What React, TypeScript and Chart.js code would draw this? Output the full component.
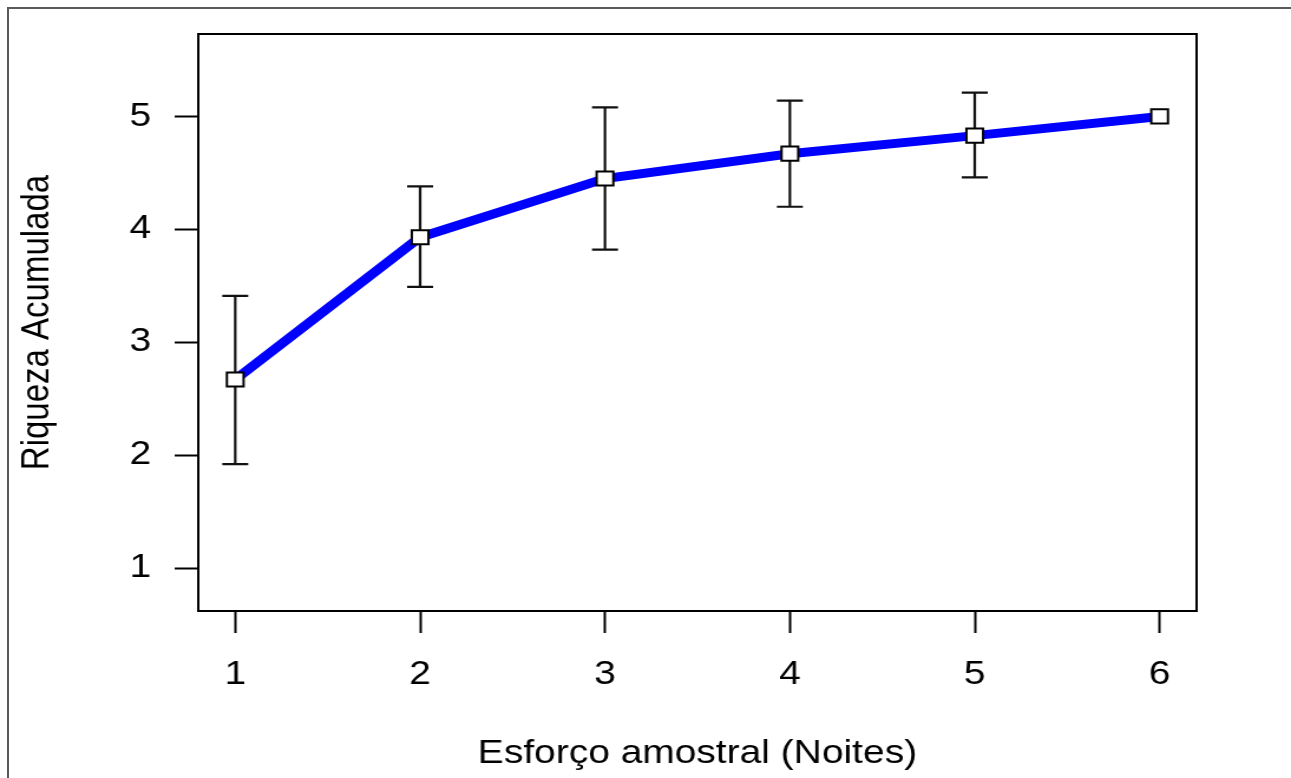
import React, { useEffect, useRef } from "react";
import { Chart, registerables } from "chart.js";

Chart.register(...registerables);

// ---- data ----
const NIGHTS = [1, 2, 3, 4, 5, 6];
const RICHNESS = [2.67, 3.93, 4.45, 4.67, 4.83, 5.0];
const UPPER = [3.41, 4.38, 5.08, 5.14, 5.21, 5.0];
const LOWER = [1.92, 3.49, 3.82, 4.2, 4.46, 5.0];
const X_TICKS = [1, 2, 3, 4, 5, 6];
const Y_TICKS = [1, 2, 3, 4, 5];
const X_TITLE = "Esforço amostral (Noites)";
const Y_TITLE = "Riqueza Acumulada";

// ---- layout ----
const CSS_W = 1291;
const CSS_H = 778;
const STRETCH = 1.18;
const CANVAS_W = Math.round(CSS_W / STRETCH);
const FONT = "'Liberation Sans', Arial, Helvetica, sans-serif";

const errorBars = {
  id: "errorBars",
  beforeDatasetsDraw(chart: any) {
    const { ctx, chartArea, scales } = chart;
    const x = scales.x;
    const y = scales.y;
    ctx.save();
    // box around plotting region
    ctx.strokeStyle = "#000";
    ctx.lineWidth = 2;
    ctx.strokeRect(
      chartArea.left,
      chartArea.top,
      chartArea.right - chartArea.left,
      chartArea.bottom - chartArea.top
    );
    // error bars
    ctx.strokeStyle = "#111";
    ctx.lineWidth = 2.2;
    NIGHTS.forEach((n, i) => {
      if (UPPER[i] === LOWER[i]) return;
      const px = x.getPixelForValue(n);
      const yt = y.getPixelForValue(UPPER[i]);
      const yb = y.getPixelForValue(LOWER[i]);
      ctx.beginPath();
      ctx.moveTo(px, yt);
      ctx.lineTo(px, yb);
      ctx.moveTo(px - 11, yt);
      ctx.lineTo(px + 11, yt);
      ctx.moveTo(px - 11, yb);
      ctx.lineTo(px + 11, yb);
      ctx.stroke();
    });
    ctx.restore();
  },
};

export default function App() {
  const ref = useRef<HTMLCanvasElement | null>(null);

  useEffect(() => {
    document.body.style.overflow = "hidden";
    const canvas = ref.current;
    if (!canvas) return;
    const chart = new Chart(canvas, {
      type: "line",
      data: {
        datasets: [
          {
            data: NIGHTS.map((n, i) => ({ x: n, y: RICHNESS[i] })),
            borderColor: "#0000ff",
            borderWidth: 9,
            tension: 0,
            pointStyle: "rect",
            pointRadius: 10,
            pointHoverRadius: 10,
            pointBackgroundColor: "#ffffff",
            pointBorderColor: "#000000",
            pointBorderWidth: 2,
          },
        ],
      },
      options: {
        responsive: false,
        maintainAspectRatio: false,
        devicePixelRatio: 1,
        animation: false,
        layout: { padding: { left: 0, right: 80, top: 34, bottom: 0 } },
        plugins: {
          legend: { display: false },
          tooltip: { enabled: false },
        },
        scales: {
          x: {
            type: "linear",
            min: 0.8,
            max: 6.2,
            afterBuildTicks: (s: any) => {
              s.ticks = X_TICKS.map((v) => ({ value: v }));
            },
            afterFit: (s: any) => {
              s.height = 167;
              s.paddingLeft = 0;
              s.paddingRight = 0;
            },
            border: { display: false },
            grid: {
              drawOnChartArea: false,
              drawTicks: true,
              tickLength: 22,
              tickWidth: 2,
              tickColor: "#000",
            },
            ticks: {
              padding: 22,
              color: "#000",
              font: { family: FONT, size: 33 },
              maxRotation: 0,
              autoSkip: false,
            },
            title: {
              display: true,
              text: X_TITLE,
              color: "#000",
              font: { family: FONT, size: 33 },
              padding: { top: 0, bottom: 4 },
            },
          },
          y: {
            type: "linear",
            min: 0.62,
            max: 5.73,
            afterBuildTicks: (s: any) => {
              s.ticks = Y_TICKS.map((v) => ({ value: v }));
            },
            afterFit: (s: any) => {
              s.width = 168;
              s.paddingTop = 0;
              s.paddingBottom = 0;
            },
            border: { display: false },
            grid: {
              drawOnChartArea: false,
              drawTicks: true,
              tickLength: 20,
              tickWidth: 2,
              tickColor: "#000",
            },
            ticks: {
              padding: 20,
              color: "#000",
              font: { family: FONT, size: 33 },
              autoSkip: false,
            },
            title: {
              display: true,
              text: Y_TITLE,
              color: "#000",
              font: { family: FONT, size: 33 },
              padding: { top: 12, bottom: 0 },
            },
          },
        },
      },
      plugins: [errorBars],
    } as any);
    return () => chart.destroy();
  }, []);

  return (
    <div>
      <div
        style={{
          position: "fixed",
          left: 7,
          top: 7,
          width: 1400,
          height: 900,
          borderTop: "2px solid #5a5a5a",
          borderLeft: "2px solid #5a5a5a",
          boxSizing: "border-box",
        }}
      />
      <canvas
        ref={ref}
        width={CANVAS_W}
        height={CSS_H}
        style={{
          position: "fixed",
          left: 0,
          top: 0,
          width: CSS_W + "px",
          height: CSS_H + "px",
        }}
      />
    </div>
  );
}
